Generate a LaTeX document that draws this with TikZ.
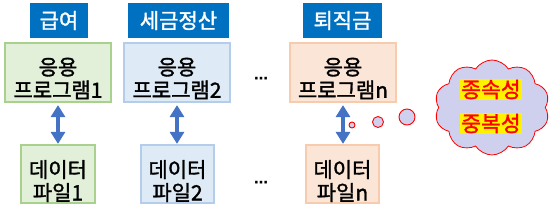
\documentclass[tikz,border=0pt]{standalone}
\usepackage{fontspec}
\setmainfont{Noto Sans CJK KR}
\newfontfamily\kf{Noto Sans CJK KR}[FakeBold=1.5]
\newfontfamily\symf{DejaVu Sans}
\usetikzlibrary{shapes.symbols,arrows.meta}
\definecolor{titleblue}{HTML}{0070C0}
\definecolor{gfill}{HTML}{E2F0D9}
\definecolor{gline}{HTML}{A9D18E}
\definecolor{bfill}{HTML}{DEEBF7}
\definecolor{bline}{HTML}{B4CDEB}
\definecolor{ofill}{HTML}{FBE5D6}
\definecolor{oline}{HTML}{F8CBAD}
\definecolor{arrowblue}{HTML}{4472C4}
\definecolor{lav}{HTML}{CFCFEE}
\tikzset{
  titlebox/.style={fill=titleblue, text=white, inner sep=0pt, minimum height=35pt, font=\kf\fontsize{21}{23}\selectfont},
  appbox/.style={draw, line width=1.2pt, inner sep=0pt, minimum width=106pt, minimum height=59pt},
  databox/.style={draw, line width=1.2pt, inner sep=0pt, minimum width=73pt, minimum height=58pt},
  lbl/.style={inner sep=0pt, align=center, font=\kf\fontsize{21}{23}\selectfont},
  green/.style={fill=gfill, draw=gline},
  blue/.style={fill=bfill, draw=bline},
  orange/.style={fill=ofill, draw=oline},
  link/.style={draw=arrowblue, line width=4.5pt, {Triangle[length=12pt,width=14pt]}-{Triangle[length=12pt,width=14pt]}, shorten <=2.5pt, shorten >=0.5pt},
  dots/.style={font=\symf\bfseries\fontsize{14}{14}\selectfont, inner sep=0pt},
  bubble/.style={circle, draw=red, fill=lav, line width=0.9pt, inner sep=0pt},
  hl/.style={fill=yellow, text=red, inner sep=1pt, font=\kf\fontsize{21.5}{23}\selectfont}
}
\begin{document}
\begin{tikzpicture}[x=1pt,y=-1pt]
\useasboundingbox (0,0) rectangle (555,211);
\node[titlebox, minimum width=58pt] (t1) at (59,20.5) {급여};
\node[titlebox, minimum width=101pt] (t2) at (178.5,20.5) {세금정산};
\node[titlebox, minimum width=79pt] (t3) at (342.5,20.5) {퇴직금};

\node[appbox, green] (a1) at (58,72.5) {};
\node[appbox, blue] (a2) at (177,72.5) {};
\node[appbox, orange] (a3) at (343,72.5) {};
\node[lbl] (a1t) at ([yshift=-6pt]a1.center) {응용\\프로그램1};
\node[lbl] (a2t) at ([yshift=-6pt]a2.center) {응용\\프로그램2};
\node[lbl] (a3t) at ([yshift=-6pt]a3.center) {응용\\프로그램n};

\node[databox, green, minimum width=74pt] (d1) at (58,174) {};
\node[databox, blue] (d2) at (177.5,174) {};
\node[databox, orange] (d3) at (342.5,174) {};
\node[lbl] (d1t) at ([yshift=-7pt]d1.center) {데이터\\파일1};
\node[lbl] (d2t) at ([yshift=-7pt]d2.center) {데이터\\파일2};
\node[lbl] (d3t) at ([yshift=-7pt]d3.center) {데이터\\파일n};

\draw[link] (a1) -- (d1);
\draw[link] (a2.south) -- (a2.south |- d2.north);
\draw[link] (a3) -- (a3 |- d3.north);

\node[dots] (dt) at (261,80) {⋯};
\node[dots] (db) at (261,184) {⋯};

\node[cloud, cloud puffs=10, cloud puff arc=115, aspect=1.25, draw=red, fill=lav, line width=0.8pt,
      minimum width=115pt, minimum height=95pt] (cl) at (492,107.5) {};
\node[hl] (h1) at (491,89.5) {종속성};
\node[hl] (h2) at (491,123.5) {중복성};

\node[bubble, minimum size=6pt] (b1) at (352,125) {};
\node[bubble, minimum size=11pt] (b2) at (378,122) {};
\node[bubble, minimum size=16pt] (b3) at (407,117) {};
\end{tikzpicture}
\end{document}
